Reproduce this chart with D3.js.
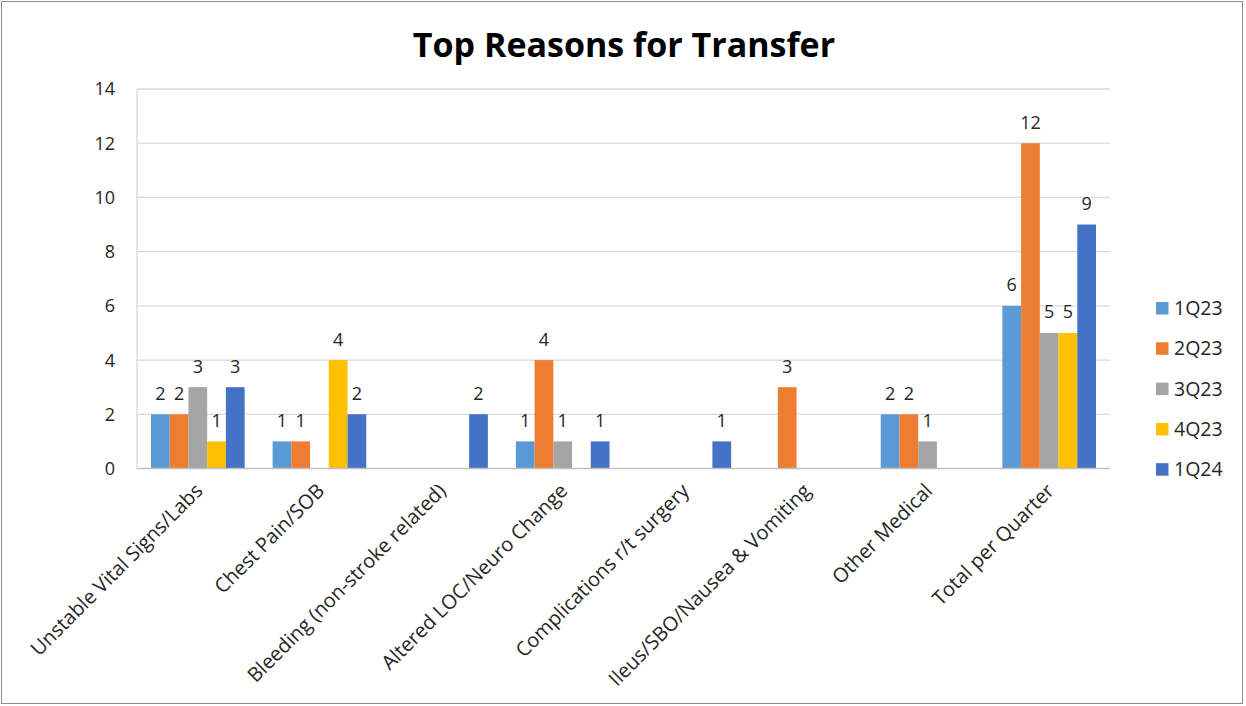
<!DOCTYPE html>
<html lang="en">
<head>
  <meta charset="UTF-8">
  <title>Top Reasons for Transfer</title>
  <style>
    body { margin: 0; background: #fff; }
    text { font-family: "Open Sans", sans-serif; fill: #262626; }
  </style>
</head>
<body>
  <svg id="svg" width="1246" height="706"></svg>

  <script src="https://d3js.org/d3.v7.min.js"></script>
  <script>
    const categories = ['Unstable Vital Signs/Labs', 'Chest Pain/SOB', 'Bleeding (non-stroke related)',
      'Altered LOC/Neuro Change', 'Complications r/t surgery', 'Ileus/SBO/Nausea & Vomiting',
      'Other Medical', 'Total per Quarter']
    const quarters = ['1Q23', '2Q23', '3Q23', '4Q23', '1Q24']
    const colors = ['#5B9BD5', '#ED7D31', '#A5A5A5', '#FFC000', '#4472C4']

    // one array per quarter, null = no bar
    const q1_23 = [2, 1, null, 1, null, null, 2, 6]
    const q2_23 = [2, 1, null, 4, null, 3, 2, 12]
    const q3_23 = [3, null, null, 1, null, null, 1, 5]
    const q4_23 = [1, 4, null, null, null, null, null, 5]
    const q1_24 = [3, 2, 2, 1, 1, null, null, 9]
    const series = [q1_23, q2_23, q3_23, q4_23, q1_24]
    const yTicks = [0, 2, 4, 6, 8, 10, 12, 14]

    const svg = d3.select('#svg')

    svg.append('rect')
      .attr('x', 1.5).attr('y', 1.5)
      .attr('width', 1241).attr('height', 702)
      .attr('fill', '#fff').attr('stroke', '#8c8c8c')

    const xScale = d3.scaleBand()
      .domain(categories)
      .range([137, 1110])

    const bw = xScale.bandwidth()
    const xInner = d3.scaleBand()
      .domain(quarters)
      .range([bw * 0.115, bw * 0.885])

    const yScale = d3.scaleLinear()
      .domain([0, 14])
      .range([468.5, 89])

    const colorScale = d3.scaleOrdinal().domain(quarters).range(colors)

    // gridlines
    svg.append('g')
      .selectAll('line')
      .data(yTicks.slice(1))
      .enter()
      .append('line')
      .attr('x1', 137).attr('x2', 1110)
      .attr('y1', d => yScale(d)).attr('y2', d => yScale(d))
      .attr('stroke', '#d9d9d9').attr('stroke-width', 1.3)

    // y labels
    svg.append('g')
      .selectAll('text')
      .data(yTicks)
      .enter()
      .append('text')
      .attr('x', 115)
      .attr('y', d => yScale(d))
      .attr('dy', '0.36em')
      .attr('text-anchor', 'end')
      .style('font-size', '18px')
      .text(d => d)

    // bars
    const flat = []
    series.forEach((vals, i) => vals.forEach((v, j) => {
      if (v !== null) flat.push({ q: quarters[i], cat: categories[j], v })
    }))

    svg.append('g')
      .selectAll('rect')
      .data(flat)
      .enter()
      .append('rect')
      .attr('x', d => xScale(d.cat) + xInner(d.q))
      .attr('y', d => yScale(d.v))
      .attr('width', xInner.bandwidth())
      .attr('height', d => yScale(0) - yScale(d.v))
      .attr('fill', d => colorScale(d.q))

    svg.append('g')
      .selectAll('text')
      .data(flat)
      .enter()
      .append('text')
      .attr('x', d => xScale(d.cat) + xInner(d.q) + xInner.bandwidth() / 2)
      .attr('y', d => yScale(d.v) - 14.5)
      .attr('text-anchor', 'middle')
      .style('font-size', '18px')
      .text(d => d.v)

    // axes lines
    svg.append('line')
      .attr('x1', 137).attr('x2', 1110)
      .attr('y1', yScale(0)).attr('y2', yScale(0))
      .attr('stroke', '#bfbfbf').attr('stroke-width', 1.3)
    svg.append('line')
      .attr('x1', 137).attr('x2', 137)
      .attr('y1', yScale(14)).attr('y2', yScale(0))
      .attr('stroke', '#d9d9d9').attr('stroke-width', 1.3)

    // category labels
    svg.append('g')
      .selectAll('text')
      .data(categories)
      .enter()
      .append('text')
      .attr('transform', d => `translate(${xScale(d) + bw / 2 + 1},${487}) rotate(-45)`)
      .attr('text-anchor', 'end')
      .attr('dy', '0.36em')
      .style('font-size', '20px')
      .text(d => d)

    // legend
    const legend = svg.append('g')
      .selectAll('g')
      .data(quarters)
      .enter()
      .append('g')
      .attr('transform', (d, i) => `translate(1156,${308 + i * 40.3})`)
    legend.append('rect')
      .attr('x', 0).attr('y', -6)
      .attr('width', 12.5).attr('height', 12.5)
      .attr('fill', d => colorScale(d))
    legend.append('text')
      .attr('x', 18)
      .attr('dy', '0.36em')
      .style('font-size', '19.5px')
      .text(d => d)

    // title
    svg.append('text')
      .attr('x', 624).attr('y', 57)
      .attr('text-anchor', 'middle')
      .style('font-size', '34px')
      .style('font-weight', 'bold')
      .style('fill', '#000')
      .text('Top Reasons for Transfer')
  </script>
</body>
</html>
